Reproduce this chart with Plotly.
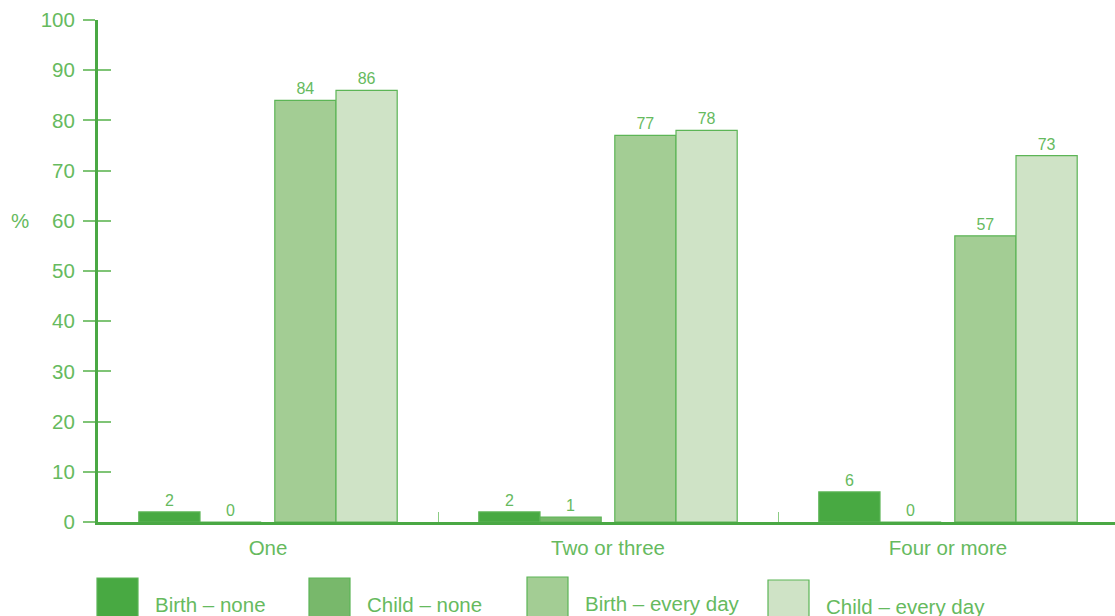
import plotly.graph_objects as go

categories = ["One", "Two or three", "Four or more"]
series_names = ["Birth – none", "Child – none", "Birth – every day", "Child – every day"]
birth_none = [2, 2, 6]
child_none = [0, 1, 0]
birth_every = [84, 77, 57]
child_every = [86, 78, 73]
series_values = [birth_none, child_none, birth_every, child_every]

fills = ["#48a942", "#78b86b", "#a3cd94", "#cfe3c6"]
outline = "#5cb556"
text_col = "#66ba5e"
axis_col = "#4aa844"
offsets = [-0.38, -0.20, 0.02, 0.20]
font_fam = "Liberation Sans, Arial, sans-serif"

fig = go.Figure()
for name, vals, col, off in zip(series_names, series_values, fills, offsets):
    fig.add_trace(go.Bar(
        x=categories, y=vals, name=name,
        offset=off, width=0.18,
        marker=dict(color=col, line=dict(color=outline, width=1.2)),
        text=[str(v) for v in vals], textposition="outside",
        textfont=dict(size=16, color=text_col, family=font_fam),
        cliponaxis=False, showlegend=False,
    ))

fig.update_layout(
    width=1115, height=616,
    margin=dict(l=98, r=0, t=20, b=94),
    plot_bgcolor="white", paper_bgcolor="white",
    barmode="overlay",
    font=dict(family=font_fam, color=text_col),
    xaxis=dict(
        range=[-0.5, 2.5 - 3 / 340], showgrid=False,
        showline=True, linecolor=axis_col, linewidth=3,
        tickson="boundaries", ticks="inside", ticklen=10, tickcolor="#8ccc84", tickwidth=1,
        tickfont=dict(size=20.5, color=text_col), ticklabelstandoff=5, fixedrange=True,
    ),
    yaxis=dict(
        range=[0, 100], tickvals=list(range(0, 101, 10)), showgrid=False, zeroline=False,
        showline=True, linecolor=axis_col, linewidth=3,
        ticks="outside", ticklen=12, tickcolor="#7fc476", tickwidth=1.5,
        tickfont=dict(size=20.5, color=text_col), ticklabelstandoff=4, fixedrange=True,
    ),
    yaxis2=dict(
        range=[0, 100], tickvals=list(range(0, 101, 10)), overlaying="y", side="left",
        showgrid=False, zeroline=False, showline=False, showticklabels=False,
        ticks="inside", ticklen=13, tickcolor="#7fc476", tickwidth=1.5, fixedrange=True,
    ),
)
# dummy trace to activate yaxis2
fig.add_trace(go.Scatter(x=[categories[0]], y=[None], yaxis="y2", showlegend=False, hoverinfo="skip"))

fig.add_annotation(text="%", xref="paper", yref="y", x=-0.077, y=60, showarrow=False,
                   xanchor="center", yanchor="middle", font=dict(size=20.5, color=text_col))

# manual legend
leg_x = [97, 309, 527, 768]
leg_y = [578, 578, 577, 580]
W = 1115 - 98
H = 616 - 20 - 94
for name, col, lx, ly in zip(series_names, fills, leg_x, leg_y):
    x0 = (lx - 98) / W
    x1 = (lx + 41 - 98) / W
    y0 = (522 - ly) / H
    y1 = (522 - 660) / H
    fig.add_shape(type="rect", xref="paper", yref="paper", x0=x0, x1=x1, y0=y1, y1=y0,
                  fillcolor=col, line=dict(color=outline, width=1.2))
    fig.add_annotation(text=name, xref="paper", yref="paper", x=(lx + 56 - 98) / W,
                       y=(522 - (ly + 26)) / H, showarrow=False, xanchor="left", yanchor="middle",
                       font=dict(size=20.5, color=text_col))

fig.write_html("out.html", config={"displayModeBar": False},
               post_script="document.body.style.margin='0';document.body.style.padding='0';")
